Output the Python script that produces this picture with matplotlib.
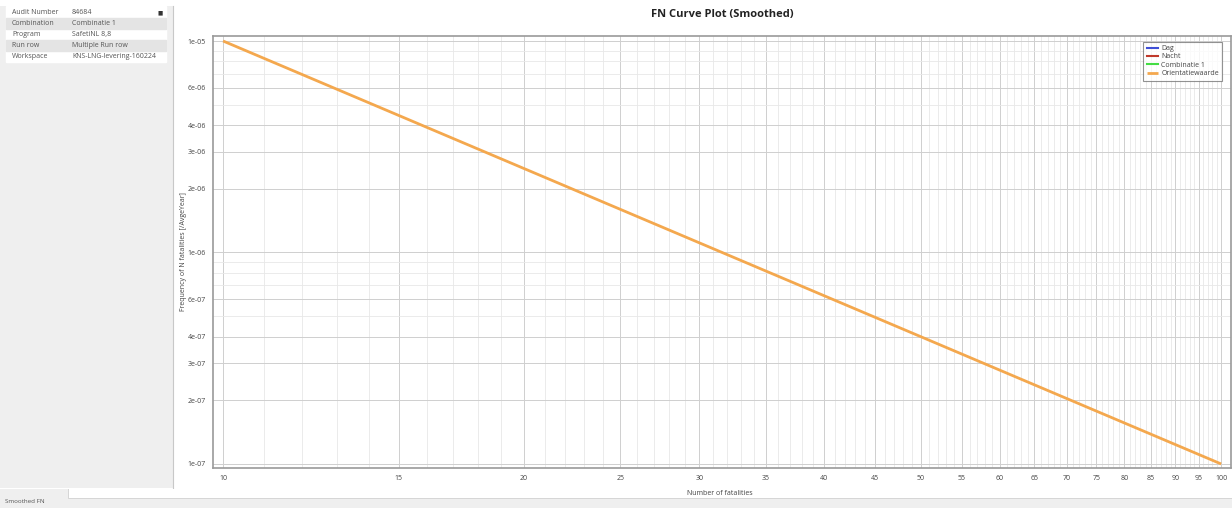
"""FN curve plot (smoothed) - screenshot recreation."""
import numpy as np
import matplotlib
matplotlib.use('Agg')
import matplotlib.pyplot as plt
from matplotlib.ticker import FixedLocator, NullFormatter

plt.rcParams['font.family'] = ['Open Sans', 'DejaVu Sans']

# data
n_dag, f_dag = [], []
n_nacht, f_nacht = [], []
n_comb, f_comb = [], []
n_orient = [10, 100]
f_orient = [1e-5, 1e-7]

x_ticks = [10, 15, 20, 25, 30, 35, 40, 45, 50, 55, 60, 65, 70, 75, 80, 85, 90, 95, 100]
y_ticks = [1e-7, 2e-7, 3e-7, 4e-7, 6e-7, 1e-6, 2e-6, 3e-6, 4e-6, 6e-6, 1e-5]
y_tick_labels = ['1e-07', '2e-07', '3e-07', '4e-07', '6e-07', '1e-06',
                 '2e-06', '3e-06', '4e-06', '6e-06', '1e-05']

info_keys = ['Audit Number', 'Combination', 'Program', 'Run row', 'Workspace']
info_vals = ['84684', 'Combinatie 1', 'SafetiNL 8,8', 'Multiple Run row',
             'KNS-LNG-levering-160224']

W, H = 1232, 508
fig = plt.figure(figsize=(W / 100, H / 100), dpi=100)
fig.patch.set_facecolor('white')


def box(x0, y0, x1, y1):
    # pixel box (top-left origin) -> figure fraction rect
    return [x0 / W, 1 - y1 / H, (x1 - x0) / W, (y1 - y0) / H]


# left info panel
side = fig.add_axes(box(0, 6, 173, 488))
side.set_facecolor('#efefef')
side.set_xlim(0, 173); side.set_ylim(482, 0)
side.set_xticks([]); side.set_yticks([])
for s in side.spines.values():
    s.set_visible(False)
side.spines['right'].set_visible(True)
side.spines['right'].set_color('#c8c8c8')
side.add_patch(plt.Rectangle((6, 0), 160, 56, color='white', zorder=0))
for i, (k, v) in enumerate(zip(info_keys, info_vals)):
    y = 1 + i * 11
    if i % 2 == 1:
        side.add_patch(plt.Rectangle((6, y), 160, 11, color='#e4e4e4', zorder=1))
    side.text(12, y + 5.5, k, fontsize=5, color='#555555', va='center', zorder=2)
    side.text(72, y + 5.5, v, fontsize=5, color='#555555', va='center', zorder=2)
side.text(160, 6.5, '■', fontsize=4, color='#333333', va='center', ha='center',
          family=['DejaVu Sans'], zorder=2)

# bottom status strip
strip = fig.add_axes(box(0, 489, W, H))
strip.set_facecolor('#efefef')
strip.set_xticks([]); strip.set_yticks([])
for s in strip.spines.values():
    s.set_visible(False)
strip.text(5 / W, 0.35, 'Smoothed FN', transform=strip.transAxes,
           fontsize=4.5, color='#555555', va='center')
strip.add_patch(plt.Rectangle((68 / W, 0.55), 1, 0.5, transform=strip.transAxes,
                              facecolor='white', edgecolor='#d0d0d0', lw=0.6))

# main plot
ax = fig.add_axes(box(213, 36, 1231, 468))
ax.plot(n_dag, f_dag, color='#3f4fd6', lw=1.5, label='Dag')
ax.plot(n_nacht, f_nacht, color='#c0392b', lw=1.5, label='Nacht')
ax.plot(n_comb, f_comb, color='#44dd44', lw=1.5, label='Combinatie 1')
ax.plot(n_orient, f_orient, color='#f4a84e', lw=2, label='Orientatiewaarde',
        solid_capstyle='butt')

ax.set_xscale('log'); ax.set_yscale('log')
ax.set_xlim(9.77, 102.3)
ax.set_ylim(0.957e-7, 1.056e-5)

ax.xaxis.set_major_locator(FixedLocator(x_ticks))
ax.set_xticklabels([str(t) for t in x_ticks])
ax.xaxis.set_minor_locator(FixedLocator(np.arange(10, 101, 1)))
ax.xaxis.set_minor_formatter(NullFormatter())
ax.yaxis.set_major_locator(FixedLocator(y_ticks))
ax.set_yticklabels(y_tick_labels)
ax.yaxis.set_minor_locator(FixedLocator([m * 10.0 ** e for e in (-7, -6)
                                         for m in range(1, 10)] + [1e-5]))
ax.yaxis.set_minor_formatter(NullFormatter())

ax.tick_params(which='both', length=0, labelsize=5, labelcolor='#444444', pad=5)
ax.grid(True, which='major', color='#cfcfcf', lw=0.7)
ax.grid(True, which='minor', color='#e8e8e8', lw=0.6)
for s in ax.spines.values():
    s.set_color('#9a9a9a')
    s.set_linewidth(1.2)

ax.set_title('FN Curve Plot (Smoothed)', fontsize=8, fontweight='bold',
             color='#222222', pad=14)
ax.set_xlabel('Number of fatalities', fontsize=5, color='#444444')
ax.xaxis.set_label_coords((720 - 213) / (1231 - 213), -0.052)
ax.set_ylabel('Frequency of N fatalities [/AvgeYear]', fontsize=5, color='#444444')
ax.yaxis.set_label_coords(-0.026, 0.5)

leg = ax.legend(loc='upper right', fontsize=5, frameon=True, fancybox=False,
                handlelength=1.6, borderpad=0.5, labelspacing=0.2,
                handletextpad=0.5, bbox_to_anchor=(0.995, 0.995))
leg.get_frame().set_edgecolor('#777777')
leg.get_frame().set_linewidth(0.8)
for t in leg.get_texts():
    t.set_color('#444444')

fig.savefig('out.png', dpi=100)
